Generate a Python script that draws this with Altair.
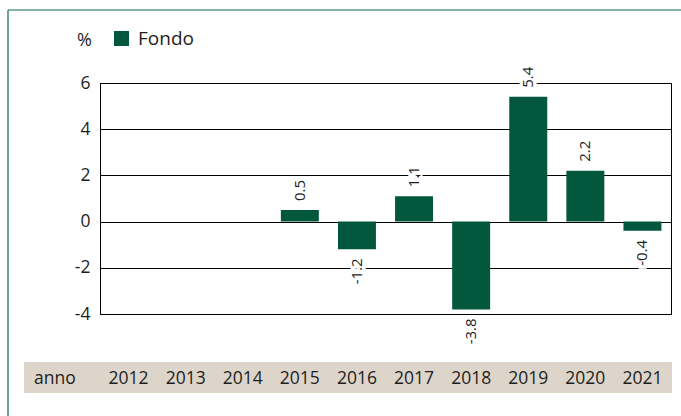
import altair as alt
import pandas as pd

# ---- data ----
years = ["2012", "2013", "2014", "2015", "2016", "2017", "2018", "2019", "2020", "2021"]
values = [None, None, None, 0.5, -1.2, 1.1, -3.8, 5.4, 2.2, -0.4]
series_name = "Fondo"
y_ticks = [-4, -2, 0, 2, 4, 6]
unit_label = "%"
row_label = "anno"

FONT = "Open Sans"
BAR = "#03573D"
TEXT = "#1e1e1e"
TAN = "#DDD5CA"
FRAME_GREEN = "#0E6B47"

W, H = 571, 231

df = pd.DataFrame({"anno": years, "valore": values, "serie": series_name})
df["label"] = [("" if v is None else f"{v:.1f}") for v in values]
one = pd.DataFrame({"k": [0]})

xscale = alt.Scale(domain=years, paddingInner=0.335, paddingOuter=0.1675)
yscale = alt.Scale(domain=[-4, 6], nice=False, zero=False)

# tan row behind year labels
band_row = alt.Chart(one).mark_rect(color=TAN).encode(
    x=alt.value(-76), x2=alt.value(572), y=alt.value(279), y2=alt.value(310)
)
anno_txt = alt.Chart(one).mark_text(
    align="left", baseline="middle", font=FONT, fontSize=17.5, color=TEXT
).encode(x=alt.value(-66), y=alt.value(296), text=alt.value(row_label))

bars = alt.Chart(df).transform_filter("datum.valore != null").mark_bar().encode(
    x=alt.X("anno:N", scale=xscale, axis=None),
    y=alt.Y(
        "valore:Q",
        scale=yscale,
        axis=alt.Axis(
            values=y_ticks, grid=True, gridColor="black", gridWidth=1,
            ticks=False, domain=True, domainColor="black", domainWidth=1,
            labelFont=FONT, labelFontSize=17.5, labelColor=TEXT, labelPadding=10,
            labelExpr="'' + datum.value",
            title=unit_label, titleAngle=0, titleX=-16, titleY=-38,
            titleAlign="center", titleBaseline="alphabetic",
            titleFont=FONT, titleFontSize=18, titleFontWeight="normal", titleColor=TEXT,
        ),
    ),
    y2=alt.datum(0),
    color=alt.Color(
        "serie:N",
        scale=alt.Scale(range=[BAR]),
        legend=alt.Legend(
            title=None, orient="none", legendX=12, legendY=-54,
            symbolType="square", symbolSize=225, symbolStrokeWidth=0,
            labelFont=FONT, labelFontSize=19, labelColor=TEXT, labelOffset=7,
            padding=0,
        ),
    ),
)

year_txt = alt.Chart(df).mark_text(
    align="center", baseline="middle", font=FONT, fontSize=17.5, color=TEXT
).encode(x=alt.X("anno:N", scale=xscale, axis=None), y=alt.value(296), text="anno:N")

label_layers = []
for cond, align, dx in [("datum.valore != null && datum.valore >= 0", "left", 9),
                        ("datum.valore != null && datum.valore < 0", "right", -9)]:
    for halo in (True, False):
        kw = dict(align=align, baseline="middle", angle=270, dx=dx, font=FONT, fontSize=15)
        if halo:
            kw.update(color="white", stroke="white", strokeWidth=7)
        else:
            kw.update(color=TEXT)
        label_layers.append(
            alt.Chart(df).transform_filter(cond).mark_text(**kw).encode(
                x=alt.X("anno:N", scale=xscale, axis=None),
                y=alt.Y("valore:Q", scale=yscale),
                text="label:N",
            )
        )

top_border = alt.Chart(one).mark_rule(color=FRAME_GREEN, strokeWidth=1.2).encode(
    x=alt.value(-92), x2=alt.value(600), y=alt.value(-73)
)
left_border = alt.Chart(one).mark_rule(color=FRAME_GREEN, strokeWidth=1.2).encode(
    x=alt.value(-92), y=alt.value(-73), y2=alt.value(340)
)

chart = alt.layer(
    band_row, anno_txt, bars, year_txt, *label_layers, top_border, left_border
).properties(
    width=W, height=H,
    autosize=alt.AutoSizeParams(type="none"),
    padding={"left": 100, "top": 83, "right": 10, "bottom": 102},
    background="white",
).configure_view(stroke="black", strokeWidth=1)

chart.save("out.html", embed_options={"renderer": "svg", "actions": False})
